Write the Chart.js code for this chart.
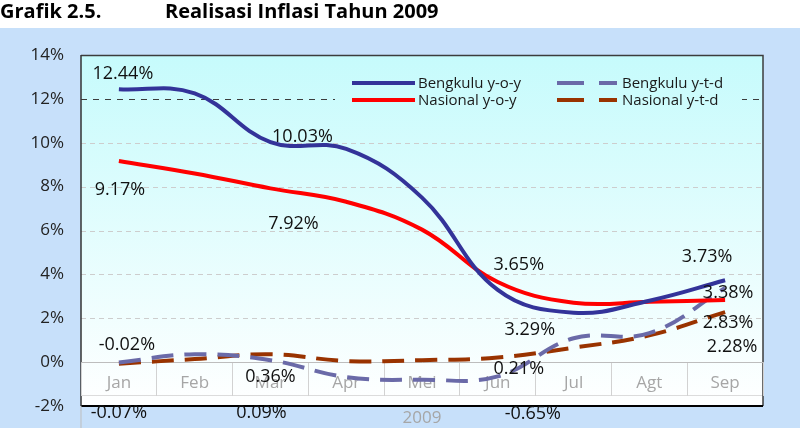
<!DOCTYPE html>
<html>
<head>
<meta charset="utf-8">
<script src="https://cdn.jsdelivr.net/npm/chart.js@4.4.0/dist/chart.umd.min.js"></script>
<style>
  html, body { margin: 0; padding: 0; background: #fff; }
  #wrap { position: relative; width: 800px; height: 428px; overflow: hidden; }
  #chart { position: absolute; left: 0; top: 0; }
  .ttl { position: absolute; top: -1px; font: bold 20px "Open Sans", sans-serif; line-height: 24px; color: #000; white-space: nowrap; }
</style>
</head>
<body>
<div id="wrap">
  <canvas id="chart" width="800" height="428"></canvas>
  <div class="ttl" style="left:0">Grafik 2.5.</div>
  <div class="ttl" style="left:165px">Realisasi Inflasi Tahun 2009</div>
</div>
<script>
// data
const months = ['Jan', 'Feb', 'Mar', 'Apr', 'Mei', 'Jun', 'Jul', 'Agt', 'Sep'];
const bengkuluYoy = [12.44, 12.25, 10.03, 9.72, 7.5, 3.29, 2.25, 2.8, 3.73];
const nasionalYoy = [9.17, 8.60, 7.92, 7.31, 6.04, 3.65, 2.71, 2.75, 2.83];
const bengkuluYtd = [-0.02, 0.36, 0.09, -0.68, -0.8, -0.65, 1.09, 1.32, 3.38];
const nasionalYtd = [-0.07, 0.14, 0.36, 0.05, 0.09, 0.21, 0.66, 1.22, 2.28];
const yTicks = [-2, 0, 2, 4, 6, 8, 10, 12, 14];
const yearLabel = '2009';

const FONT = '"Open Sans", sans-serif';

// which points carry a value label, and where the label sits relative to the point
const valueLabels = [
  { ds: 0, i: 0, dx: 4, dy: -17 }, { ds: 1, i: 0, dx: 1, dy: 28 },
  { ds: 2, i: 0, dx: 8, dy: -19 }, { ds: 3, i: 0, dx: 0, dy: 48 },
  { ds: 0, i: 2, dx: 32, dy: -7 }, { ds: 1, i: 2, dx: 23, dy: 34 },
  { ds: 3, i: 2, dx: 0, dy: 21 }, { ds: 2, i: 2, dx: -9, dy: 51 },
  { ds: 1, i: 5, dx: 21, dy: -19 }, { ds: 0, i: 5, dx: 32, dy: 39 },
  { ds: 3, i: 5, dx: 21, dy: 10 }, { ds: 2, i: 5, dx: 35, dy: 36 },
  { ds: 0, i: 8, dx: -18, dy: -25 }, { ds: 2, i: 8, dx: 3, dy: 4 },
  { ds: 1, i: 8, dx: 3, dy: 21 }, { ds: 3, i: 8, dx: 7, dy: 33 }
];

const fmt = v => v.toFixed(2) + '%';

// background, plot fill, horizontal rules and frame
const backdrop = {
  id: 'backdrop',
  beforeDraw(chart) {
    const { ctx, chartArea: a, scales: { y } } = chart;
    ctx.save();
    ctx.fillStyle = '#ffffff';
    ctx.fillRect(0, 0, chart.width, chart.height);
    ctx.fillStyle = '#c7e0fa';
    ctx.fillRect(0, 28, chart.width, chart.height - 28);

    const g = ctx.createLinearGradient(0, a.top, 0, a.bottom);
    g.addColorStop(0, '#c6fbfc');
    g.addColorStop(1, '#ffffff');
    chart.$plotFill = g;
    ctx.fillStyle = g;
    ctx.fillRect(a.left, a.top, a.right - a.left, a.bottom - a.top);

    yTicks.forEach(v => {
      if (v === 0 || v === yTicks[0] || v === yTicks[yTicks.length - 1]) return;
      const py = Math.round(y.getPixelForValue(v)) + 0.5;
      ctx.beginPath();
      ctx.lineWidth = 1;
      ctx.strokeStyle = v === 12 ? '#3c3c3c' : '#cdcdcd';
      ctx.setLineDash(v === 12 ? [6, 6] : [5, 4]);
      ctx.moveTo(a.left, py);
      ctx.lineTo(a.right, py);
      ctx.stroke();
    });
    ctx.setLineDash([]);

    // bottom of the category box
    const pb = Math.round(y.getPixelForValue(-1.5)) + 0.5;
    ctx.strokeStyle = '#dcdcdc';
    ctx.beginPath(); ctx.moveTo(a.left, pb); ctx.lineTo(a.right, pb); ctx.stroke();

    // frame
    ctx.strokeStyle = '#3c3c3c';
    ctx.lineWidth = 1.5;
    ctx.beginPath();
    ctx.moveTo(a.left, a.top + 0.5); ctx.lineTo(a.right, a.top + 0.5);
    ctx.lineTo(a.right, a.bottom);
    ctx.stroke();
    ctx.strokeStyle = '#000';
    ctx.lineWidth = 2;
    ctx.beginPath(); ctx.moveTo(a.left, a.bottom); ctx.lineTo(a.right, a.bottom); ctx.stroke();
    ctx.strokeStyle = '#333';
    ctx.lineWidth = 1.5;
    ctx.beginPath(); ctx.moveTo(a.left, a.top); ctx.lineTo(a.left, a.bottom); ctx.stroke();
    ctx.strokeStyle = '#bdbdbd';
    ctx.lineWidth = 1;
    ctx.beginPath(); ctx.moveTo(a.left, a.bottom); ctx.lineTo(a.left, chart.height); ctx.stroke();
    ctx.restore();
  }
};

// legend box, value labels and the year caption
const overlay = {
  id: 'overlay',
  afterDraw(chart) {
    const { ctx, chartArea: a } = chart;
    const sets = chart.data.datasets;
    ctx.save();

    // legend
    ctx.fillStyle = chart.$plotFill;
    ctx.fillRect(335, 72, 407, 38);
    const rows = [83, 100];
    const entries = [
      { ds: 0, x: 352, w: 63, tx: 418, row: 0 },
      { ds: 1, x: 352, w: 63, tx: 418, row: 1 },
      { ds: 2, x: 557, w: 60, tx: 622, row: 0 },
      { ds: 3, x: 557, w: 60, tx: 622, row: 1 }
    ];
    ctx.font = '15px ' + FONT;
    ctx.textBaseline = 'middle';
    ctx.textAlign = 'left';
    entries.forEach(e => {
      const d = sets[e.ds];
      const ly = rows[e.row];
      ctx.strokeStyle = d.borderColor;
      ctx.lineWidth = d.borderWidth;
      ctx.setLineDash(d.borderDash ? [27, 15] : []);
      ctx.beginPath(); ctx.moveTo(e.x, ly); ctx.lineTo(e.x + e.w, ly); ctx.stroke();
      ctx.setLineDash([]);
      ctx.fillStyle = '#1a1a1a';
      ctx.fillText(d.label, e.tx, ly + 1);
    });

    // value labels
    ctx.font = '18px ' + FONT;
    ctx.textAlign = 'center';
    ctx.textBaseline = 'alphabetic';
    ctx.fillStyle = '#111';
    valueLabels.forEach(l => {
      const pt = chart.getDatasetMeta(l.ds).data[l.i];
      ctx.fillText(fmt(sets[l.ds].data[l.i]), pt.x + l.dx, pt.y + l.dy + 6.5);
    });

    // year caption
    ctx.font = '17px ' + FONT;
    ctx.fillStyle = '#a6a6a6';
    ctx.fillText(yearLabel, (a.left + a.right) / 2, a.bottom + 17);
    ctx.restore();
  }
};

const lineSet = (label, data, color, dashed) => ({
  label, data,
  borderColor: color,
  borderWidth: 4,
  borderDash: dashed ? [22, 11] : undefined,
  borderCapStyle: 'butt',
  pointRadius: 0,
  tension: 0.4,
  fill: false
});

new Chart(document.getElementById('chart'), {
  type: 'line',
  data: {
    labels: months,
    datasets: [
      lineSet('Bengkulu y-o-y', bengkuluYoy, '#333399', false),
      lineSet('Nasional y-o-y', nasionalYoy, '#ff0000', false),
      lineSet('Bengkulu y-t-d', bengkuluYtd, '#6a6aa8', true),
      lineSet('Nasional y-t-d', nasionalYtd, '#993300', true)
    ]
  },
  options: {
    responsive: false,
    animation: false,
    layout: { padding: { top: 55, right: 37, bottom: 22, left: 0 } },
    plugins: { legend: { display: false }, tooltip: { enabled: false } },
    scales: {
      x: {
        position: { y: 0 },
        offset: true,
        grid: { offset: true, drawOnChartArea: false, drawTicks: true, tickLength: 33, tickColor: '#d2d2d2', tickWidth: 1 },
        border: { color: '#bdbdbd', width: 1 },
        ticks: { color: '#a6a6a6', font: { family: FONT, size: 17 }, padding: -22, maxRotation: 0, autoSkip: false }
      },
      y: {
        min: -2, max: 14,
        afterBuildTicks: s => { s.ticks = yTicks.map(v => ({ value: v })); },
        afterFit: s => { s.width = 81; s.paddingTop = 0; s.paddingBottom = 0; },
        grid: { display: false, drawTicks: false },
        border: { display: false },
        ticks: { color: '#222', font: { family: FONT, size: 17 }, padding: 17, callback: v => v + '%' }
      }
    }
  },
  plugins: [backdrop, overlay]
});
</script>
</body>
</html>
